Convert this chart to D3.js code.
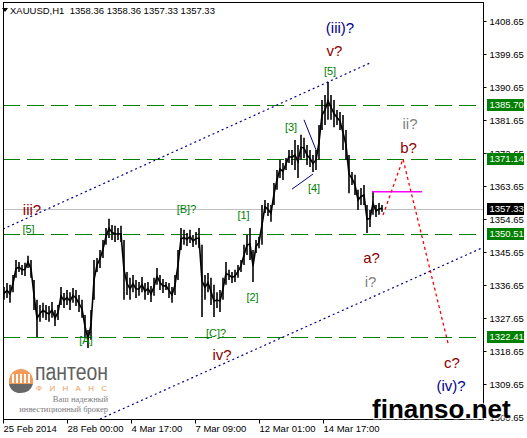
<!DOCTYPE html>
<html>
<head>
<meta charset="utf-8">
<script src="https://d3js.org/d3.v7.min.js"></script>
<style>
  body { margin: 0; background: #fff; }
  text { font-family: "Liberation Sans", Arial, sans-serif; }
  .axis text { font-size: 9.5px; fill: #000; }
  .axis line { stroke: #000; }
  .axis path { display: none; }
</style>
</head>
<body>
<script>

// ---- data ----
var tickDates = ["25 Feb 2014", "28 Feb 00:00", "4 Mar 17:00", "7 Mar 09:00", "12 Mar 01:00", "14 Mar 17:00"];
var tickBars = [0, 64, 128, 192, 256, 320];   // hourly bar index
var priceTicks = [1408.65, 1399.65, 1390.65, 1381.65, 1372.65, 1363.65, 1354.65, 1345.65, 1336.65, 1327.65, 1318.65, 1309.65, 1300.65];
var levels = [1385.70, 1371.14, 1350.51, 1322.41];
var lastPrice = 1357.33;

// high / low of each 3-hour block, starting at bar 0
var hi = [1336.1,1337.2,1336.7,1339.4,1343.5,1342.9,1342.1,1342.7,1344.6,1343.5,
          1338.0,1332.6,1331.2,1331.8,1331.2,1330.9,1332.0,1329.8,1331.2,1336.1,
          1334.5,1335.3,1334.7,1335.8,1335.3,1333.9,1332.6,1328.5,1324.4,1329.8,
          1343.5,1344.0,1346.2,1348.9,1352.2,1354.7,1353.0,1352.8,1352.2,1352.8,
          1348.9,1340.2,1338.6,1339.4,1338.0,1337.5,1338.8,1337.2,1337.5,1336.4,
          1338.6,1341.3,1339.4,1338.3,1337.5,1337.2,1336.1,1339.4,1346.2,1352.2,
          1351.7,1350.8,1351.7,1350.3,1351.1,1352.2,1347.6,1339.4,1339.9,1338.6,
          1336.7,1334.7,1335.3,1338.6,1342.9,1340.8,1340.2,1340.8,1342.1,1343.5,
          1347.6,1350.3,1352.2,1346.2,1348.9,1349.8,1358.5,1359.8,1359.0,1358.5,
          1364.5,1368.0,1370.8,1369.9,1371.3,1373.5,1373.5,1376.2,1374.8,1377.6,
          1376.8,1374.8,1373.5,1372.1,1373.5,1380.3,1387.1,1388.5,1392.0,1388.5,
          1387.1,1384.4,1383.8,1383.0,1378.9,1372.1,1367.5,1366.7,1362.6,1363.1,
          1363.9,1358.5,1357.1,1362.0,1358.5,1359.0,1358.5];
var lo = [1332.6,1333.1,1331.8,1334.7,1338.6,1340.2,1339.4,1339.1,1341.3,1338.6,
          1329.8,1322.5,1326.6,1327.7,1327.1,1326.6,1327.7,1325.5,1327.1,1331.2,
          1330.4,1331.2,1329.8,1331.8,1330.9,1329.3,1327.7,1322.2,1319.5,1321.7,
          1332.6,1340.2,1341.3,1344.0,1347.6,1349.5,1348.9,1348.4,1348.9,1348.4,
          1332.6,1333.9,1332.6,1334.7,1333.1,1333.7,1334.7,1332.6,1333.9,1332.0,
          1333.7,1336.7,1335.3,1334.5,1335.3,1333.1,1331.8,1333.9,1338.0,1346.2,
          1347.6,1347.3,1348.1,1347.0,1347.6,1346.7,1327.9,1332.6,1334.7,1331.2,
          1327.9,1330.4,1329.3,1332.6,1336.7,1338.0,1337.2,1337.5,1338.6,1340.2,
          1342.1,1344.8,1343.5,1337.5,1345.4,1346.7,1347.6,1356.3,1355.5,1353.9,
          1358.5,1362.6,1365.8,1365.3,1368.0,1369.9,1369.4,1368.0,1365.8,1370.8,
          1371.3,1369.4,1368.8,1367.5,1368.0,1370.8,1378.9,1380.3,1381.7,1381.7,
          1379.7,1380.3,1378.9,1373.5,1370.8,1361.7,1363.9,1361.2,1357.1,1358.5,
          1358.5,1350.8,1352.5,1355.8,1355.2,1355.8,1356.6];

// trend channel, wave lines and forecast, as [bar, price]
var channelUp = [[0, 1351.9], [367, 1397.2]];
var channelDown = [[97, 1300.1], [481, 1347.0]];
var wave3Line = [[301, 1381.7], [313, 1373.5]];
var wave4Line = [[289, 1362.8], [310, 1366.9]];
var forecast = [[380, 1355.7], [400, 1371.0], [445, 1320.8]];
var pinkLevel = [[369, 1362.1], [419, 1362.1]];

// wave labels: bar, price, text, colour, font size
var labels = [
  [337, 1406.7, "(iii)?", "#00008b", 15],
  [331.5, 1400.5, "v?", "#8b0000", 15],
  [327, 1395.0, "[5]", "#008000", 11],
  [288, 1379.8, "[3]", "#008000", 11],
  [311, 1363.1, "[4]", "#008000", 11],
  [240.5, 1355.8, "[1]", "#008000", 11],
  [183.5, 1357.4, "[B]?", "#008000", 11],
  [249.5, 1333.4, "[2]", "#008000", 11],
  [213, 1323.6, "[C]?", "#008000", 11],
  [219, 1317.6, "iv?", "#8b0000", 15],
  [83, 1321.7, "[A]", "#008000", 11],
  [29, 1357.1, "iii?", "#8b0000", 15],
  [25.5, 1351.9, "[5]", "#008000", 11],
  [407, 1380.6, "ii?", "#808080", 15],
  [405.5, 1374.0, "b?", "#8b0000", 15],
  [368.5, 1344.0, "a?", "#8b0000", 15],
  [367.5, 1337.5, "i?", "#808080", 15],
  [449, 1315.4, "c?", "#8b0000", 15],
  [448, 1309.1, "(iv)?", "#00008b", 15]
];

// ---- layout ----
var W = 527, H = 438;
var plot = {left: 3, top: 2, right: 484, bottom: 419};

var x = d3.scaleLinear().domain([0, 481]).range([plot.left, plot.right]);
var y = d3.scaleLinear().domain([1300.65, 1408.65]).range([417, 21]);

var svg = d3.select("body").append("svg")
    .attr("width", W)
    .attr("height", H);

svg.append("clipPath").attr("id", "clip")
  .append("rect")
    .attr("x", plot.left).attr("y", plot.top)
    .attr("width", plot.right - plot.left).attr("height", plot.bottom - plot.top);

var g = svg.append("g").attr("clip-path", "url(#clip)");

var line = d3.line()
    .x(function(d) { return x(d[0]); })
    .y(function(d) { return y(d[1]); });

// logo (behind everything)
var logo = svg.append("g").attr("opacity", 0.85);
logo.append("path")
    .attr("d", "M9,381 A12,12 0 0 1 33,381 L33,384 L9,384 Z")
    .attr("fill", "#f08a3c");
[13, 17, 21, 25, 29].forEach(function(cx) {
  logo.append("rect").attr("x", cx - 1).attr("y", 374).attr("width", 2).attr("height", 9).attr("fill", "#fff");
});
logo.append("path")
    .attr("d", "M9,384 L33,384 Q30,394 18,393 Q10,391 9,384 Z")
    .attr("fill", "#4d4d4d");
logo.append("text")
    .attr("x", 35).attr("y", 380)
    .attr("textLength", 73).attr("lengthAdjust", "spacingAndGlyphs")
    .style("font-size", "23px").style("fill", "#444")
    .text("пантеон");
logo.append("text")
    .attr("x", 36).attr("y", 391)
    .attr("textLength", 71).attr("lengthAdjust", "spacing")
    .style("font-size", "8px").style("fill", "#f08a3c")
    .text("ФИНАНС");
logo.append("text")
    .attr("x", 108).attr("y", 402).attr("text-anchor", "end")
    .style("font-family", "'Liberation Serif', serif").style("font-size", "8.5px").style("fill", "#666")
    .text("Ваш надежный");
logo.append("text")
    .attr("x", 108).attr("y", 412).attr("text-anchor", "end")
    .style("font-family", "'Liberation Serif', serif").style("font-size", "8.5px").style("fill", "#666")
    .text("инвестиционный брокер");

// bid line
g.append("line")
    .attr("x1", plot.left).attr("x2", plot.right)
    .attr("y1", Math.round(y(lastPrice)) + 0.5).attr("y2", Math.round(y(lastPrice)) + 0.5)
    .attr("stroke", "#c0c0c0");

// horizontal levels
g.selectAll(".level").data(levels).enter().append("line")
    .attr("class", "level")
    .attr("x1", plot.left).attr("x2", plot.right)
    .attr("y1", function(d) { return Math.round(y(d)) + 0.5; })
    .attr("y2", function(d) { return Math.round(y(d)) + 0.5; })
    .attr("stroke", "#008000")
    .attr("stroke-dasharray", "17,7");

// channel (lower line runs on to the right edge)
var slopeDown = (channelDown[1][1] - channelDown[0][1]) / (channelDown[1][0] - channelDown[0][0]);
[channelUp, channelDown].forEach(function(c) {
  g.append("path").datum(c)
      .attr("d", line)
      .attr("fill", "none")
      .attr("stroke", "#00008b")
      .attr("stroke-width", 1.2)
      .attr("stroke-dasharray", "2,3");
});

// price: hi-lo stroke per block plus a line through the block middles
g.selectAll(".bar").data(hi).enter().append("line")
    .attr("class", "bar")
    .attr("x1", function(d, i) { return x(1 + 3 * i); })
    .attr("x2", function(d, i) { return x(1 + 3 * i); })
    .attr("y1", function(d) { return y(d); })
    .attr("y2", function(d, i) { return y(lo[i]); })
    .attr("stroke", "#000")
    .attr("stroke-width", 1.6);

var mid = d3.line()
    .x(function(d, i) { return x(1 + 3 * i); })
    .y(function(d, i) { return y((hi[i] + lo[i]) / 2); });
g.append("path").datum(hi)
    .attr("d", mid)
    .attr("fill", "none")
    .attr("stroke", "#000")
    .attr("stroke-width", 1.6);

// wave lines
[wave3Line, wave4Line].forEach(function(w) {
  g.append("path").datum(w)
      .attr("d", line)
      .attr("stroke", "#00008b")
      .attr("fill", "none");
});

// pink level and forecast
g.append("path").datum(pinkLevel)
    .attr("d", line)
    .attr("stroke", "#ff00ff")
    .attr("stroke-width", 1.5);
g.append("path").datum(forecast)
    .attr("d", line)
    .attr("fill", "none")
    .attr("stroke", "#ff0000")
    .attr("stroke-width", 1.3)
    .attr("stroke-dasharray", "3,3");

// wave labels
g.selectAll(".wave").data(labels).enter().append("text")
    .attr("class", "wave")
    .attr("x", function(d) { return x(d[0]); })
    .attr("y", function(d) { return y(d[1]); })
    .attr("dy", "0.35em")
    .attr("text-anchor", "middle")
    .style("font-size", function(d) { return d[4] + "px"; })
    .style("fill", function(d) { return d[3]; })
    .text(function(d) { return d[2]; });

// frame
svg.append("rect")
    .attr("x", plot.left + 0.5).attr("y", plot.top + 0.5)
    .attr("width", plot.right - plot.left - 1).attr("height", plot.bottom - plot.top)
    .attr("fill", "none")
    .attr("stroke", "#000");

// right price axis
svg.append("g")
    .attr("class", "axis")
    .attr("transform", "translate(" + (plot.right - 0.5) + ",0)")
    .call(d3.axisRight(y).tickValues(priceTicks).tickFormat(d3.format(".2f")).tickSize(3).tickPadding(3));

// bottom time axis
var xAxis = svg.append("g")
    .attr("class", "axis")
    .attr("transform", "translate(0," + (plot.bottom + 0.5) + ")")
    .call(d3.axisBottom(x).tickValues(tickBars)
      .tickFormat(function(d, i) { return tickDates[i]; }).tickSize(4).tickPadding(2));
xAxis.selectAll("text").attr("text-anchor", "start").attr("dx", "0px");

// price tags on the axis
var tags = levels.map(function(d) { return [d, "#008000"]; });
tags.push([lastPrice, "#000"]);
var tag = svg.selectAll(".tag").data(tags).enter().append("g")
    .attr("transform", function(d) { return "translate(487," + Math.round(y(d[0])) + ")"; });
tag.append("rect")
    .attr("x", 0).attr("y", -6)
    .attr("width", 37).attr("height", 12)
    .attr("fill", function(d) { return d[1]; });
tag.append("text")
    .attr("x", 2.5).attr("dy", "0.35em")
    .style("font-size", "9.5px").style("fill", "#fff")
    .text(function(d) { return d[0].toFixed(2); });

// header
svg.append("path").attr("d", "M2,8 L8,8 L5,12 Z").attr("fill", "#000");
svg.append("text")
    .attr("x", 10).attr("y", 14)
    .style("font-size", "9.5px")
    .attr("xml:space", "preserve")
    .text("XAUUSD,H1  1358.36 1358.36 1357.33 1357.33");

// watermark
svg.append("text")
    .attr("x", 372).attr("y", 418)
    .style("font-size", "26px").style("font-weight", "bold")
    .style("fill", "#000")
    .style("stroke", "#fff").style("stroke-width", 3).style("paint-order", "stroke")
    .style("stroke-opacity", 0.6)
    .text("finanso.net");

</script>
</body>
</html>
